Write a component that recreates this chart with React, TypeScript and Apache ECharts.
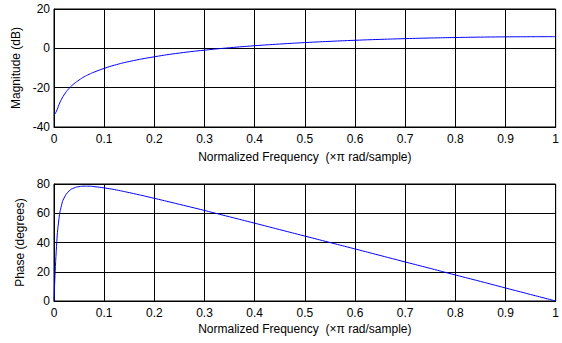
import React, { useEffect, useRef } from "react";
import * as echarts from "echarts";

const freq = [0, 0.005, 0.01, 0.015, 0.02, 0.03, 0.04, 0.05, 0.06, 0.07, 0.08, 0.1, 0.12, 0.15, 0.2, 0.25, 0.3, 0.35, 0.4, 0.45, 0.5, 0.55, 0.6, 0.65, 0.7, 0.75, 0.8, 0.85, 0.9, 0.95, 1.0];
const magnitudeDb = [-34.0, -31.9, -28.6, -25.9, -23.7, -20.4, -18.0, -16.1, -14.5, -13.2, -12.1, -10.2, -8.6, -6.7, -4.3, -2.4, -0.93, 0.3, 1.32, 2.18, 2.92, 3.55, 4.09, 4.55, 4.93, 5.25, 5.5, 5.7, 5.83, 5.9, 5.93];
const phaseDeg = [0, 37.4, 56.4, 65.4, 70.4, 75.2, 77.3, 78.2, 78.5, 78.5, 78.2, 77.35, 76.2, 74.1, 70.2, 66.1, 61.9, 57.55, 53.2, 48.8, 44.4, 40.0, 35.6, 31.15, 26.7, 22.3, 17.8, 13.4, 8.9, 4.45, 0];

const xLabel = "Normalized Frequency  (×π rad/sample)";
const magLabel = "Magnitude (dB)";
const phaseLabel = "Phase (degrees)";

const FONT = "Liberation Sans, Arial, sans-serif";

export default function App() {
  const ref = useRef<HTMLDivElement>(null);
  useEffect(() => {
    if (!ref.current) return;
    const chart = echarts.init(ref.current, null, { renderer: "svg" });
    const axisCommon = {
      axisLine: { show: true, onZero: false, lineStyle: { color: "#000", width: 1 } },
      axisTick: { show: true, inside: true, length: 4, lineStyle: { color: "#000" } },
      axisLabel: { color: "#000", fontSize: 12, fontFamily: FONT },
      splitLine: { show: true, lineStyle: { color: "#000", width: 1 } },
      nameTextStyle: { color: "#000", fontSize: 12, fontFamily: FONT },
      nameLocation: "middle" as const,
    };
    chart.setOption({
      animation: false,
      backgroundColor: "#fff",
      grid: [
        { left: 54, right: 5, top: 9, height: 118, show: true, borderColor: "#000", borderWidth: 1 },
        { left: 54, right: 5, top: 184, height: 117, show: true, borderColor: "#000", borderWidth: 1 },
      ],
      xAxis: [
        { ...axisCommon, type: "value", gridIndex: 0, min: 0, max: 1, interval: 0.1, name: xLabel, nameGap: 24, axisLabel: { ...axisCommon.axisLabel, margin: 6 } },
        { ...axisCommon, type: "value", gridIndex: 1, min: 0, max: 1, interval: 0.1, name: xLabel, nameGap: 22, axisLabel: { ...axisCommon.axisLabel, margin: 6 } },
      ],
      yAxis: [
        { ...axisCommon, type: "value", gridIndex: 0, min: -40, max: 20, interval: 20, name: magLabel, nameGap: 24, axisLabel: { ...axisCommon.axisLabel, margin: 4 } },
        { ...axisCommon, type: "value", gridIndex: 1, min: 0, max: 80, interval: 20, name: phaseLabel, nameGap: 24, axisLabel: { ...axisCommon.axisLabel, margin: 4 } },
      ],
      series: [
        {
          type: "line", xAxisIndex: 0, yAxisIndex: 0, showSymbol: false, smooth: true,
          lineStyle: { color: "#0000ff", width: 1 },
          data: freq.map((f, i) => [f, magnitudeDb[i]]),
        },
        {
          type: "line", xAxisIndex: 1, yAxisIndex: 1, showSymbol: false, smooth: true,
          lineStyle: { color: "#0000ff", width: 1 },
          data: freq.map((f, i) => [f, phaseDeg[i]]),
        },
      ],
    });
    return () => chart.dispose();
  }, []);
  return <div ref={ref} style={{ position: "fixed", left: 0, top: 0, width: 562, height: 343 }} />;
}
